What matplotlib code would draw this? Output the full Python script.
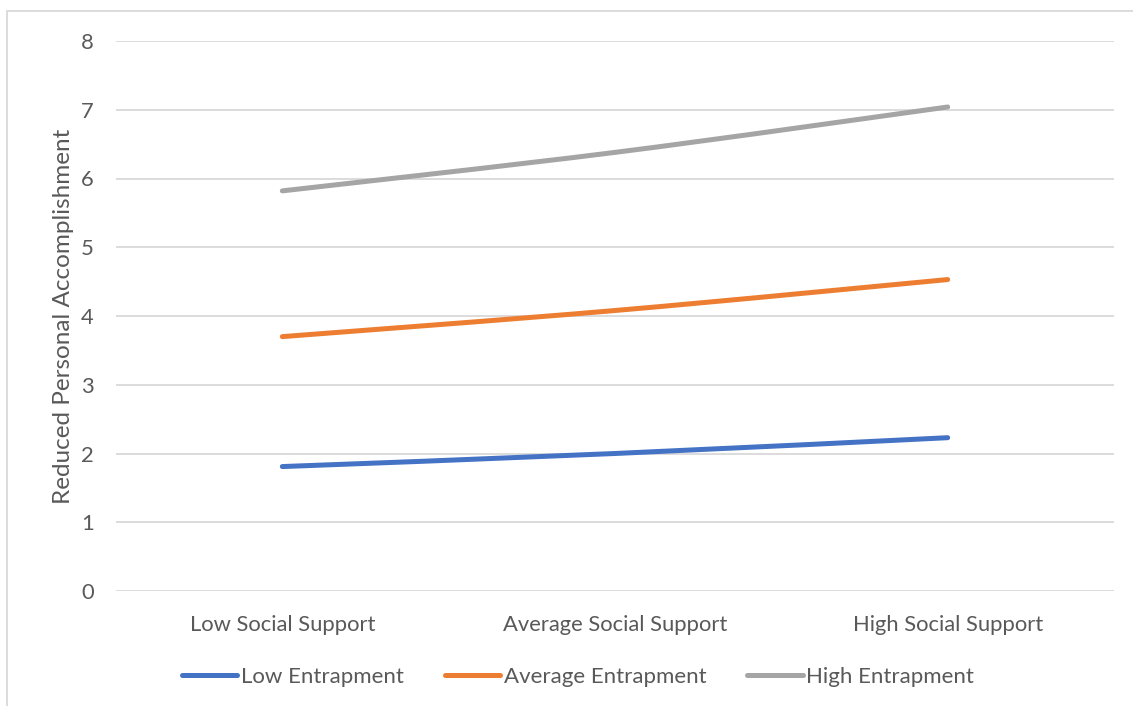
import numpy as np
import matplotlib.pyplot as plt
from matplotlib.path import Path
from matplotlib.patches import PathPatch, Rectangle
from matplotlib.lines import Line2D

plt.rcParams['font.family'] = ['Lato', 'DejaVu Sans']

categories = ['Low Social Support', 'Average Social Support', 'High Social Support']
series_names = ['Low Entrapment', 'Average Entrapment', 'High Entrapment']
low_entrapment = [1.81, 2.00, 2.23]
average_entrapment = [3.70, 4.08, 4.53]
high_entrapment = [5.82, 6.38, 7.04]
y_ticks = [0, 1, 2, 3, 4, 5, 6, 7, 8]

colors = ['#4472C4', '#ED7D31', '#A5A5A5']
text_color = '#595959'


def smooth_path(xs, ys, tension=1 / 6):
    # Catmull-Rom style cubic Bezier through the points (like a smoothed line)
    pts = np.column_stack([xs, ys]).astype(float)
    verts = [pts[0]]
    codes = [Path.MOVETO]
    n = len(pts)
    for i in range(n - 1):
        p0 = pts[i - 1] if i > 0 else pts[i]
        p1, p2 = pts[i], pts[i + 1]
        p3 = pts[i + 2] if i + 2 < n else pts[i + 1]
        c1 = p1 + (p2 - p0) * tension
        c2 = p2 - (p3 - p1) * tension
        verts += [c1, c2, p2]
        codes += [Path.CURVE4] * 3
    return Path(verts, codes)


fig = plt.figure(figsize=(11.33, 7.06), dpi=100)
ax = fig.add_axes([116 / 1133, 1 - 591 / 706, (1114 - 116) / 1133, (591 - 41) / 706])

x = np.arange(len(categories))
for vals, color in zip([low_entrapment, average_entrapment, high_entrapment], colors):
    patch = PathPatch(smooth_path(x, vals), facecolor='none', edgecolor=color,
                      lw=3.6, capstyle='round', joinstyle='round', zorder=3)
    ax.add_patch(patch)

ax.set_xlim(-0.5, 2.5)
ax.set_ylim(0, 8)
ax.set_yticks(y_ticks)
ax.set_xticks(x)
ax.set_xticklabels(categories)
ax.yaxis.grid(True, color='#D9D9D9', lw=1.3)
ax.set_axisbelow(True)
for s in ax.spines.values():
    s.set_visible(False)
ax.tick_params(axis='both', length=0, labelsize=15.8, colors=text_color)
ax.tick_params(axis='y', pad=16)
ax.tick_params(axis='x', pad=17)
ax.set_ylabel('Reduced Personal Accomplishment', fontsize=17.5, color=text_color, labelpad=5)

handles = [Line2D([], [], color=c, lw=3.6, solid_capstyle='round') for c in colors]
fig.legend(handles, series_names, loc='center', bbox_to_anchor=(578 / 1133, 1 - 677 / 706),
           ncol=3, frameon=False, fontsize=16, labelcolor=text_color,
           handlelength=2.5, handletextpad=0.15, columnspacing=1.85)

# chart frame
fig.patches.append(Rectangle((7 / 1133, -0.1), 1.2, 1 - 11 / 706 + 0.1,
                             transform=fig.transFigure, fill=False,
                             edgecolor='#D9D9D9', lw=1.3))

fig.savefig('out.png', dpi=100, facecolor='white')
